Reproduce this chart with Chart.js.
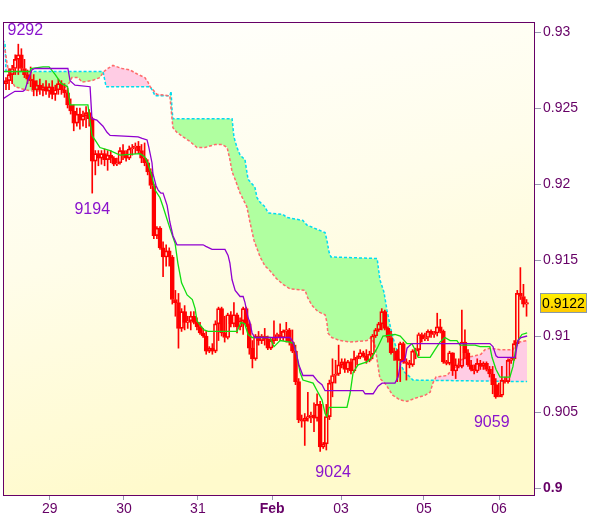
<!DOCTYPE html>
<html>
<head>
<meta charset="utf-8">
<script src="https://cdn.jsdelivr.net/npm/chart.js@4.4.1/dist/chart.umd.min.js"></script>
<style>
  html, body { margin: 0; padding: 0; background: #fff; }
  #wrap { width: 600px; height: 519px; }
</style>
</head>
<body>
<div id="wrap"><canvas id="chart" width="600" height="519"></canvas></div>
<script>
// hourly bars, prices in pips (9266 -> 0.9266)
var opens = [
  9266,9268,9272,9276,9282,9285,9276,9272,9269,9268,
  9262,9265,9262,9264,9261,9264,9259,9262,9266,9262,
  9260,9252,9248,9240,9246,9242,9245,9247,9243,9215,
  9220,9217,9220,9216,9219,9217,9213,9214,9222,9219,
  9217,9223,9224,9225,9222,9217,9214,9208,9199,9166,
  9171,9158,9152,9156,9152,9124,9122,9105,9116,9109,
  9110,9113,9109,9106,9102,9100,9090,9092,9090,9108,
  9118,9102,9099,9114,9108,9114,9106,9110,9118,9108,
  9092,9085,9100,9097,9100,9098,9092,9097,9099,9101,
  9099,9103,9104,9096,9090,9070,9045,9044,9046,9047,
  9048,9046,9055,9027,9029,9047,9069,9074,9075,9081,
  9083,9078,9083,9077,9085,9086,9089,9087,9084,9088,
  9100,9104,9108,9116,9105,9099,9089,9090,9084,9095,
  9083,9082,9081,9090,9091,9101,9098,9099,9103,9101,
  9102,9106,9103,9083,9082,9089,9077,9081,9080,9096,
  9089,9081,9078,9077,9082,9080,9082,9078,9075,9068,
  9060,9061,9071,9070,9084,9085,9095,9128,9126,9121
];
var highs = [
  9270,9276,9278,9285,9292,9289,9282,9275,9277,9272,
  9268,9269,9266,9268,9266,9268,9265,9269,9268,9266,
  9263,9256,9252,9250,9250,9248,9251,9249,9244,9222,
  9222,9222,9223,9222,9222,9218,9217,9224,9226,9222,
  9225,9226,9227,9228,9226,9227,9216,9210,9200,9172,
  9172,9162,9160,9158,9153,9130,9128,9118,9120,9113,
  9116,9116,9112,9109,9105,9103,9093,9095,9110,9119,
  9119,9113,9115,9116,9122,9115,9112,9119,9119,9110,
  9097,9101,9103,9101,9105,9100,9098,9110,9102,9108,
  9104,9109,9105,9104,9094,9072,9048,9049,9063,9050,
  9056,9062,9057,9030,9055,9071,9085,9084,9094,9085,
  9085,9084,9085,9090,9087,9091,9090,9091,9090,9101,
  9105,9109,9118,9117,9106,9103,9092,9091,9096,9096,
  9085,9084,9091,9092,9102,9102,9102,9104,9104,9103,
  9115,9111,9104,9084,9090,9089,9085,9085,9117,9104,
  9091,9084,9081,9085,9084,9083,9083,9080,9080,9072,
  9069,9080,9073,9085,9086,9097,9130,9145,9134,9124
];
var lows = [
  9262,9262,9266,9272,9272,9274,9270,9266,9264,9258,
  9258,9259,9258,9259,9257,9256,9255,9259,9259,9257,
  9250,9246,9235,9238,9236,9238,9237,9238,9194,9206,
  9212,9213,9212,9209,9214,9212,9212,9213,9216,9215,
  9216,9219,9220,9220,9214,9212,9206,9197,9164,9164,
  9157,9139,9146,9146,9121,9113,9092,9103,9104,9105,
  9104,9108,9104,9101,9099,9088,9089,9088,9089,9097,
  9100,9096,9098,9106,9106,9102,9104,9101,9106,9088,
  9079,9084,9094,9095,9094,9091,9091,9095,9097,9097,
  9097,9096,9094,9089,9068,9043,9040,9028,9044,9043,
  9037,9044,9024,9026,9025,9045,9060,9069,9074,9079,
  9076,9076,9075,9076,9081,9085,9086,9082,9083,9085,
  9099,9103,9104,9104,9096,9088,9084,9070,9070,9082,
  9071,9079,9080,9085,9087,9096,9097,9097,9099,9099,
  9100,9102,9082,9081,9081,9074,9072,9079,9079,9085,
  9080,9077,9075,9076,9078,9078,9077,9073,9062,9059,
  9060,9060,9069,9069,9082,9084,9094,9124,9119,9113
];
var closes = [
  9268,9272,9276,9282,9285,9276,9272,9269,9268,9262,
  9265,9262,9264,9261,9264,9259,9262,9266,9262,9260,
  9252,9248,9240,9246,9242,9245,9247,9243,9215,9220,
  9217,9220,9216,9219,9217,9213,9214,9222,9219,9217,
  9223,9224,9225,9222,9217,9214,9208,9199,9166,9171,
  9158,9152,9156,9152,9124,9122,9105,9116,9109,9110,
  9113,9109,9106,9102,9100,9090,9092,9090,9108,9118,
  9102,9099,9114,9108,9114,9106,9110,9118,9108,9092,
  9085,9100,9097,9100,9098,9092,9097,9099,9101,9099,
  9103,9104,9096,9090,9070,9045,9044,9046,9047,9048,
  9046,9055,9027,9029,9047,9069,9074,9075,9081,9083,
  9078,9083,9077,9085,9086,9089,9087,9084,9088,9100,
  9104,9108,9116,9105,9099,9089,9090,9084,9095,9083,
  9082,9081,9090,9091,9101,9098,9099,9103,9101,9102,
  9106,9103,9083,9082,9089,9077,9081,9080,9096,9089,
  9081,9078,9077,9082,9080,9082,9078,9075,9068,9060,
  9061,9071,9070,9084,9085,9095,9128,9126,9121,9122
];

// ichimoku lines, [bar, pips] at the corners
var tenkan = [[-1,9274],[7.8,9274],[8,9276],[12,9277],[14,9277],[16,9272],[18,9266],[20,9264],[20.8,9252],[26.6,9252],
  [27.9,9232],[28.9,9229],[30.5,9224],[33.8,9222],[37,9219],[43.5,9220],[45,9218],[46,9214],[47.4,9205],[48.4,9196],
  [50,9191],[51,9185],[53.2,9171],[54.9,9161],[55.8,9148],[57,9135],[58.8,9127],[60.5,9124],[61.4,9118],[62,9110],
  [64.3,9104],[65.6,9103],[75,9103],[76.3,9109],[77.5,9108],[78.6,9101],[79.9,9099],[85.7,9099],[87,9093],[88,9095],
  [89,9097],[92.2,9096],[93.5,9095],[94.5,9086],[95.5,9076],[96.4,9071],[99.7,9069],[101,9064],[102.6,9058],[103.6,9049],
  [104.2,9047],[104.9,9053],[110.7,9053],[111.7,9062],[112.7,9076],[114.3,9081],[117.2,9083],[118.8,9086],[120.5,9092],[122.4,9100],
  [126.3,9101],[128,9100],[130.2,9095],[131.8,9095],[132.8,9091],[133.8,9086],[137.7,9086],[139.3,9091],[140.9,9096],[142.5,9099],
  [144.2,9097],[146.4,9097],[147.4,9094],[152.3,9094],[153.9,9093],[157.1,9093],[157.8,9086],[159.1,9078],[160.4,9073],[163.6,9073],
  [164.6,9080],[165.3,9089],[166.2,9097],[167.5,9101],[169.2,9102]];
var kijun = [[-1,9256],[1.3,9259],[2.9,9261],[5.5,9261],[6.2,9262],[7.1,9268],[8.4,9275],[9.4,9276],[20.1,9276],[20.8,9268],
  [22.4,9265],[27.3,9264],[27.9,9243],[29.5,9242],[31.5,9238],[32.8,9234],[33.8,9232],[42.9,9231],[44.2,9230],[45.8,9229],
  [46.4,9224],[47.4,9214],[47.7,9207],[48.7,9199],[49.4,9196],[50.3,9194],[51,9194],[52.3,9186],[53.2,9175],[54.2,9166],
  [55.5,9160],[64,9160],[64.9,9159],[66.9,9157],[71.1,9157],[72.1,9153],[72.7,9148],[73.4,9137],[74.4,9130],[76,9126],
  [77,9126],[77.6,9122],[78.6,9112],[79.2,9109],[79.9,9102],[80.8,9099],[92.2,9099],[93.2,9096],[94.2,9089],[95.1,9081],
  [96.4,9074],[99.7,9074],[101.3,9070],[102.6,9068],[103.6,9064],[115.9,9064],[116.6,9062],[119.2,9062],[120.8,9067],[122.1,9069],
  [126.3,9069],[127.3,9073],[128.2,9083],[129.5,9084],[130.2,9092],[131.2,9094],[131.8,9095],[157.1,9095],[158.1,9093],[159.1,9087],
  [159.7,9086],[165.3,9086],[166.2,9097],[167.2,9099],[169.2,9100]];
var spanA = [[-1,9291],[-0.3,9288],[0.3,9280],[1.3,9270],[2.9,9264],[6.2,9262],[9.4,9261],[12.7,9262],[18.5,9262],[20.1,9265],
  [21.4,9270],[23.4,9270],[24.7,9267],[27.9,9268],[30.5,9270],[31.8,9274],[33.1,9276],[34.7,9278],[37.7,9276],[40.3,9275],
  [42.9,9272],[45.1,9270],[46.1,9267],[46.8,9264],[47.7,9262],[49,9259],[53.2,9258],[53.9,9243],[54.2,9237],[55.5,9234],
  [57.5,9231],[59.7,9228],[62,9224],[64.6,9224],[67.9,9226],[70.1,9226],[71.8,9224],[72.7,9216],[73.4,9208],[74.4,9203],
  [76,9194],[78.2,9185],[79.2,9175],[80.5,9163],[82.5,9152],[84.1,9146],[85.7,9143],[87.7,9138],[89.9,9134],[92.2,9131],
  [97.1,9130],[98,9125],[99.4,9120],[101.3,9116],[103.6,9114],[104.2,9109],[104.5,9102],[105.8,9099],[108.4,9097],[111.7,9096],
  [117.2,9097],[118.5,9099],[119.8,9094],[120.5,9084],[121.4,9072],[123,9069],[125.6,9061],[127.9,9058],[130.2,9057],[132.8,9059],
  [136,9061],[137.7,9063],[138.6,9069],[139.6,9073],[143.2,9074],[144.8,9078],[146.4,9080],[147.4,9084],[149.7,9086],[152.3,9087],
  [154.2,9088],[155.5,9091],[157.1,9092],[160.4,9091],[164.6,9091],[165.6,9095],[166.6,9096],[169.2,9097]];
var spanB = [[-1,9295],[-0.3,9292],[0,9274],[31.5,9274],[32.5,9264],[46.8,9264],[47.7,9261],[48.4,9258],[53.2,9258],[53.6,9261],
  [53.9,9249],[54.2,9243],[73.4,9243],[74,9231],[75,9224],[76,9219],[77.6,9216],[78.2,9208],[78.6,9203],[79.9,9200],
  [80.8,9198],[81.5,9191],[82.5,9188],[84.1,9185],[85.1,9181],[89.9,9180],[91.2,9178],[96.4,9176],[97.7,9173],[103.6,9168],
  [104.2,9163],[104.9,9155],[105.5,9152],[120.5,9151],[121.4,9137],[122.7,9129],[123.7,9117],[124.7,9107],[125.6,9099],[126.9,9091],
  [127.9,9082],[129.5,9076],[131.2,9073],[132.1,9071],[169.2,9070]];

// axis labels
var dayLabels = ['29', '30', '31', 'Feb', '03', '05', '06'];
var dayBars = [14.2, 38.3, 62.3, 86.4, 108.8, 135.7, 160.1];
var priceTicks = [0.9, 0.905, 0.91, 0.915, 0.92, 0.925, 0.93];

// high / low marks
var markBars = [4, 28, 102, 159];
var markPips = [9292, 9194, 9024, 9059];

function px(p) { return p / 10000; }
function pts(list) { return list.map(function (d) { return {x: d[0], y: px(d[1])}; }); }

var bodies = [], upWicks = [], downWicks = [], bodyFill = [];
for (var i = 0; i < closes.length; i++) {
  var bodyHi = Math.max(opens[i], closes[i]);
  var bodyLo = Math.min(opens[i], closes[i]);
  bodies.push({x: i, y: [px(bodyLo), px(bodyHi)]});
  upWicks.push({x: i, y: [px(bodyHi), px(highs[i])]});
  downWicks.push({x: i, y: [px(lows[i]), px(bodyLo)]});
  bodyFill.push(closes[i] >= opens[i] ? 'rgba(0,0,0,0)' : '#ff0000');
}

var FONT = "'Liberation Sans', Arial, sans-serif";
Chart.defaults.font.family = FONT;

var frame = {
  id: 'frame',
  beforeDraw: function (chart) {
    var ctx = chart.ctx, a = chart.chartArea;
    ctx.save();
    ctx.fillStyle = '#ffffff';
    ctx.fillRect(0, 0, chart.width, chart.height);
    var g = ctx.createLinearGradient(a.left, a.top, a.left + 120, a.bottom);
    g.addColorStop(0, '#ffffff');
    g.addColorStop(0.5, '#fffdea');
    g.addColorStop(1, '#fffacc');
    ctx.fillStyle = g;
    ctx.fillRect(a.left, a.top, a.right - a.left, a.bottom - a.top);
    ctx.restore();
  },
  afterDraw: function (chart) {
    var ctx = chart.ctx, a = chart.chartArea;
    var xs = chart.scales.x, ys = chart.scales.y;
    ctx.save();
    // high / low labels
    var nudge = [[7, -14], [0, 16], [13, 21], [-4, 24]];
    ctx.font = '16px ' + FONT;
    ctx.fillStyle = '#8a14cc';
    ctx.textAlign = 'center';
    ctx.textBaseline = 'middle';
    for (var k = 0; k < markBars.length; k++) {
      var mx = xs.getPixelForValue(markBars[k]) + nudge[k][0];
      var my = ys.getPixelForValue(px(markPips[k])) + nudge[k][1];
      ctx.fillText(String(markPips[k]), mx, my);
    }
    // plot frame
    ctx.strokeStyle = '#660066';
    ctx.lineWidth = 1;
    ctx.strokeRect(a.left + 0.5, a.top + 0.5, a.right - a.left - 1, a.bottom - a.top - 1);
    // last price box
    var last = closes[closes.length - 1];
    var ly = Math.round(ys.getPixelForValue(px(last)));
    var bx = 540, bw = 47, bh = 20;
    var bg = ctx.createLinearGradient(0, ly - bh / 2, 0, ly + bh / 2);
    bg.addColorStop(0, '#fff200');
    bg.addColorStop(1, '#ffc800');
    ctx.fillStyle = bg;
    ctx.fillRect(bx, ly - bh / 2, bw, bh);
    ctx.strokeStyle = '#8899aa';
    ctx.strokeRect(bx + 0.5, ly - bh / 2 + 0.5, bw - 1, bh - 1);
    ctx.fillStyle = '#000000';
    ctx.font = '14px ' + FONT;
    ctx.textAlign = 'center';
    ctx.fillText(px(last).toFixed(4), bx + bw / 2, ly + 1);
    ctx.restore();
  }
};

new Chart(document.getElementById('chart'), {
  type: 'bar',
  data: {
    datasets: [
      {
        type: 'line', label: 'spanB', data: pts(spanB), order: 9,
        borderColor: '#00dcf0', borderWidth: 1.5, borderDash: [3, 2],
        pointRadius: 0, fill: false, tension: 0
      },
      {
        type: 'line', label: 'spanA', data: pts(spanA), order: 8,
        borderColor: '#ff6a6a', borderWidth: 1.5, borderDash: [3, 2],
        pointRadius: 0, tension: 0,
        fill: {target: 0, above: 'rgb(255,204,228)', below: 'rgb(176,255,160)'}
      },
      {
        label: 'upWick', data: upWicks, order: 4, grouped: false,
        barThickness: 1, backgroundColor: '#ff0000', borderWidth: 0
      },
      {
        label: 'downWick', data: downWicks, order: 4, grouped: false,
        barThickness: 1, backgroundColor: '#ff0000', borderWidth: 0
      },
      {
        label: 'body', data: bodies, order: 3, grouped: false,
        barThickness: 4, backgroundColor: bodyFill, borderColor: '#ff0000',
        borderWidth: 1, borderSkipped: false, minBarLength: 1
      },
      {
        type: 'line', label: 'tenkan', data: pts(tenkan), order: 1,
        borderColor: '#11dd11', borderWidth: 1.3, pointRadius: 0, fill: false, tension: 0
      },
      {
        type: 'line', label: 'kijun', data: pts(kijun), order: 0,
        borderColor: '#9000d0', borderWidth: 1.3, pointRadius: 0, fill: false, tension: 0
      }
    ]
  },
  options: {
    responsive: false,
    animation: false,
    devicePixelRatio: 1,
    layout: {padding: {top: 22, left: 3, right: 0, bottom: 0}},
    plugins: {
      legend: {display: false},
      tooltip: {enabled: false},
      filler: {drawTime: 'beforeDatasetsDraw'}
    },
    scales: {
      x: {
        type: 'linear', min: -0.97, max: 171.75, offset: false,
        afterBuildTicks: function (s) { s.ticks = dayBars.map(function (v) { return {value: v}; }); },
        afterFit: function (s) { s.height = 23; },
        ticks: {
          autoSkip: false, maxRotation: 0, color: '#660066', padding: 1,
          font: function (c) { return {size: 14, weight: c.index === 3 ? 'bold' : 'normal'}; },
          callback: function (v, i) { return dayLabels[i]; }
        },
        grid: {drawOnChartArea: false, drawTicks: true, tickLength: 4, color: '#9898b0', offset: false},
        border: {display: false}
      },
      y: {
        type: 'linear', position: 'right', min: 0.899474, max: 0.930658, beginAtZero: false,
        afterBuildTicks: function (s) { s.ticks = priceTicks.map(function (v) { return {value: v}; }); },
        afterFit: function (s) { s.width = 65; },
        ticks: {
          color: '#660066', padding: 2,
          font: function (c) { return {size: 14, weight: c.tick && c.tick.value === 0.9 ? 'bold' : 'normal'}; },
          callback: function (v) { return String(v); }
        },
        grid: {drawOnChartArea: false, drawTicks: true, tickLength: 6, color: '#9898b0'},
        border: {display: false}
      }
    }
  },
  plugins: [frame]
});
</script>
</body>
</html>
